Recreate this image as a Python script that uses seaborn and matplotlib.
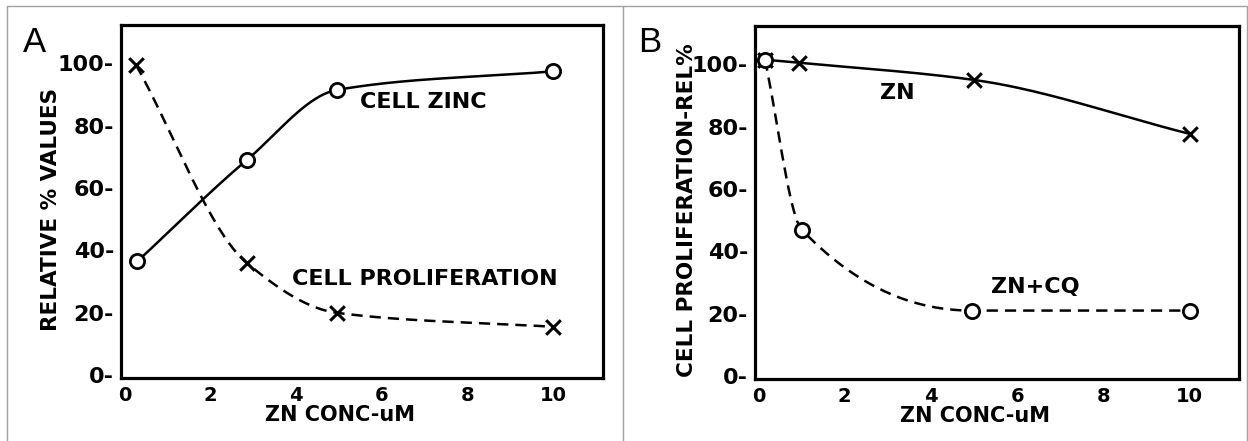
import numpy as np
import pandas as pd
import matplotlib
matplotlib.use('Agg')
import matplotlib.pyplot as plt
from matplotlib.lines import Line2D
import seaborn as sns

# panel A
a_zinc_x = [0.3, 2.85, 4.95, 10.0]
a_zinc_y = [36.5, 69.0, 91.5, 97.5]
a_prolif_x = [0.27, 2.85, 4.95, 10.0]
a_prolif_y = [99.5, 36.0, 20.0, 15.5]

# panel B
b_zn_x = [0.15, 0.95, 5.0, 10.0]
b_zn_y = [101.5, 100.5, 95.0, 77.7]
b_cq_x = [0.15, 1.0, 4.95, 10.0]
b_cq_y = [101.5, 47.0, 21.0, 21.0]

y_ticks = [0, 20, 40, 60, 80, 100]
x_ticks = [0, 2, 4, 6, 8, 10]


def pchip(x, y, n=200):
    # monotone cubic curve through the measured points (drawing only)
    x = np.asarray(x, float)
    y = np.asarray(y, float)
    h = np.diff(x)
    d = np.diff(y) / h
    m = np.zeros_like(y)
    for k in range(1, len(x) - 1):
        if d[k - 1] * d[k] > 0:
            w1 = 2 * h[k] + h[k - 1]
            w2 = h[k] + 2 * h[k - 1]
            m[k] = (w1 + w2) / (w1 / d[k - 1] + w2 / d[k])
    m[0] = d[0]
    m[-1] = d[-1]
    xs = np.linspace(x[0], x[-1], n)
    idx = np.clip(np.searchsorted(x, xs) - 1, 0, len(x) - 2)
    t = (xs - x[idx]) / h[idx]
    h00 = 2 * t**3 - 3 * t**2 + 1
    h10 = t**3 - 2 * t**2 + t
    h01 = -2 * t**3 + 3 * t**2
    h11 = t**3 - t**2
    ys = h00 * y[idx] + h10 * h[idx] * m[idx] + h01 * y[idx + 1] + h11 * h[idx] * m[idx + 1]
    return pd.DataFrame({'x': xs, 'y': ys})


def draw_series(ax, x, y, marker, dashed):
    curve = pchip(x, y)
    ls = (0, (4.5, 2.8)) if dashed else '-'
    sns.lineplot(data=curve, x='x', y='y', ax=ax, color='black', lw=1.8,
                 linestyle=ls, sort=False, estimator=None)
    pts = pd.DataFrame({'x': x, 'y': y})
    if marker == 'o':
        sns.scatterplot(data=pts, x='x', y='y', ax=ax, marker='o', s=105,
                        facecolor='white', edgecolor='black', linewidth=2, zorder=5)
    else:
        sns.scatterplot(data=pts, x='x', y='y', ax=ax, marker='x', s=110,
                        color='black', linewidth=2.2, zorder=5)


def style_axes(ax, ylabel, ylab_x):
    ax.set_xlim(-0.08, 11.15)
    ax.set_ylim(-0.9, 112.3)
    ax.set_xticks(x_ticks)
    ax.set_xticklabels([str(v) for v in x_ticks], fontsize=14, fontweight='bold')
    ax.set_yticks(y_ticks)
    ax.set_yticklabels([f'{v}-' for v in y_ticks], fontsize=16, fontweight='bold')
    ax.tick_params(length=0, pad=5, colors='black')
    ax.tick_params(axis='x', pad=6)
    for s in ax.spines.values():
        s.set_visible(True)
        s.set_linewidth(2.3)
        s.set_color('black')
    ax.set_xlabel('ZN CONC-uM', fontsize=15, fontweight='bold', color='black')
    ax.set_ylabel(ylabel, fontsize=15.5, fontweight='bold', color='black')
    ax.xaxis.set_label_coords(0.455, -0.078)
    ax.xaxis.label.set_va('top')
    ax.yaxis.set_label_coords(ylab_x, 0.478)


sns.set_style('white')
plt.rcParams['font.family'] = ['DejaVu Sans']
plt.rcParams['text.color'] = 'black'

fig = plt.figure(figsize=(12.48, 4.41), dpi=100)
ax1 = fig.add_axes([0.097, 0.143, 0.386, 0.800])
ax2 = fig.add_axes([0.605, 0.141, 0.388, 0.800])

draw_series(ax1, a_zinc_x, a_zinc_y, 'o', False)
draw_series(ax1, a_prolif_x, a_prolif_y, 'x', True)
style_axes(ax1, 'RELATIVE % VALUES', -0.125)
ax1.text(5.5, 87.6, 'CELL ZINC', fontsize=16, fontweight='bold', va='center', ha='left')
ax1.text(3.9, 31, 'CELL PROLIFERATION', fontsize=16, fontweight='bold', va='center', ha='left')

draw_series(ax2, b_zn_x, b_zn_y, 'x', False)
draw_series(ax2, b_cq_x, b_cq_y, 'o', True)
style_axes(ax2, 'CELL PROLIFERATION-REL%', -0.12)
ax2.text(2.82, 90.8, 'ZN', fontsize=16, fontweight='bold', va='center', ha='left')
ax2.text(5.4, 28.6, 'ZN+CQ', fontsize=16, fontweight='bold', va='center', ha='left')

# panel letters
fig.text(23 / 1248, 1 - 52 / 441, 'A', fontsize=25, ha='left', va='baseline',
         family='Liberation Sans')
fig.text(638 / 1248, 1 - 52 / 441, 'B', fontsize=25, ha='left', va='baseline',
         family='Liberation Sans')

# thin grey frame around the panels
grey = '#a0a0a0'
W, H = 1248, 441
for xs, ys in [([7, 1247], [6, 6]), ([7, 7], [6, 441]), ([623, 623], [6, 441]),
               ([1247, 1247], [6, 441])]:
    fig.add_artist(Line2D([x / W for x in xs], [1 - y / H for y in ys],
                          color=grey, lw=1.0, transform=fig.transFigure))

fig.savefig('out.png', dpi=100, facecolor='white')
